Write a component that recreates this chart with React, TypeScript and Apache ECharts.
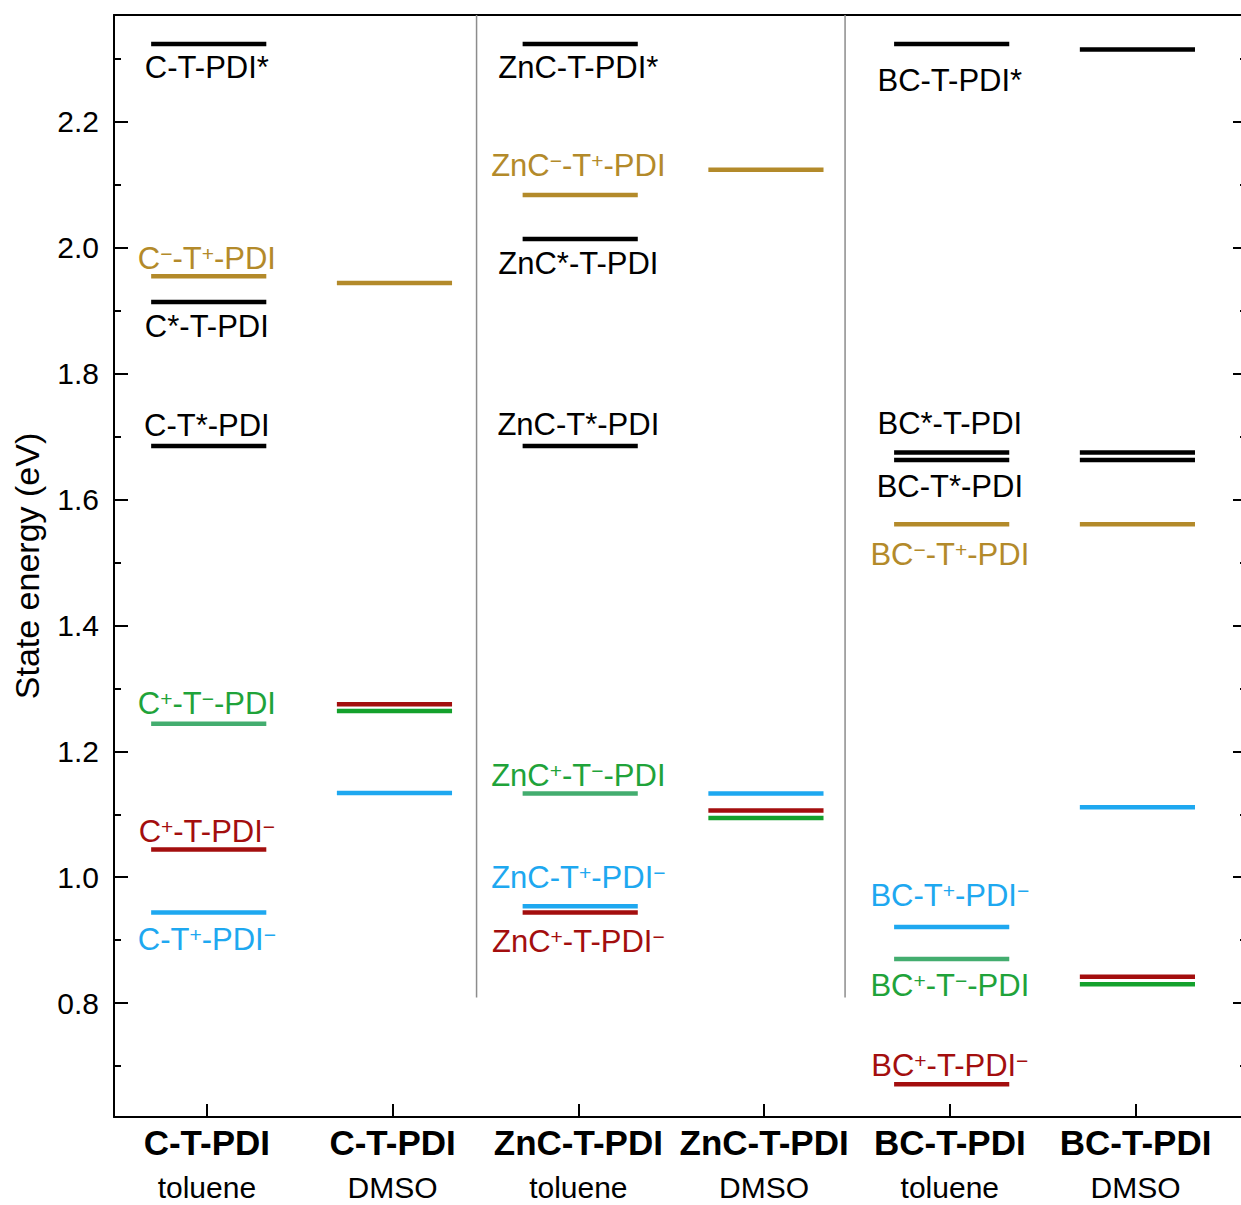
import React, { useEffect, useRef } from "react";
import * as echarts from "echarts";

const FONT = '"Liberation Sans", Arial, Helvetica, sans-serif';

// ---------- data ----------
const columns = [1, 2, 3, 4, 5, 6];
const compounds = ["C-T-PDI", "C-T-PDI", "ZnC-T-PDI", "ZnC-T-PDI", "BC-T-PDI", "BC-T-PDI"];
const solvents = ["toluene", "DMSO", "toluene", "DMSO", "toluene", "DMSO"];
const yMajorTicks = [0.8, 1.0, 1.2, 1.4, 1.6, 1.8, 2.0, 2.2];
const yMinorTicks = [0.7, 0.9, 1.1, 1.3, 1.5, 1.7, 1.9, 2.1, 2.3];
const yMin = 0.619;
const yMax = 2.37;
const xMin = 0.5;
const xMax = 6.6;

// energy levels: column, energy (eV), state type
const levelColumn = [
  1, 1, 1, 1, 1, 1, 1,
  2, 2, 2, 2,
  3, 3, 3, 3, 3, 3, 3,
  4, 4, 4, 4,
  5, 5, 5, 5, 5, 5, 5,
  6, 6, 6, 6, 6, 6, 6,
];
const levelEnergy = [
  2.324, 1.955, 1.914, 1.685, 1.244, 1.044, 0.944,
  1.944, 1.275, 1.264, 1.134,
  2.324, 2.084, 2.014, 1.685, 1.133, 0.954, 0.944,
  2.124, 1.133, 1.106, 1.094,
  2.324, 1.675, 1.663, 1.561, 0.921, 0.870, 0.671,
  2.315, 1.675, 1.663, 1.561, 1.111, 0.842, 0.830,
];
const levelState = [
  "LE", "CmTp", "LE", "LE", "CpTm", "CpPm", "TpPm",
  "CmTp", "CpPm", "CpTm", "TpPm",
  "LE", "CmTp", "LE", "LE", "CpTm", "TpPm", "CpPm",
  "CmTp", "TpPm", "CpPm", "CpTm",
  "LE", "LE", "LE", "CmTp", "TpPm", "CpTm", "CpPm",
  "LE", "LE", "LE", "CmTp", "TpPm", "CpPm", "CpTm",
];

// state labels: column, energy of labelled level, state type, text
const labelColumn = [1, 1, 1, 1, 1, 1, 1, 3, 3, 3, 3, 3, 3, 3, 5, 5, 5, 5, 5, 5, 5];
const labelEnergy = [
  2.324, 1.955, 1.914, 1.685, 1.244, 1.044, 0.944,
  2.324, 2.084, 2.014, 1.685, 1.133, 0.954, 0.944,
  2.324, 1.675, 1.663, 1.561, 0.921, 0.870, 0.671,
];
const labelState = [
  "LE", "CmTp", "LE", "LE", "CpTm", "CpPm", "TpPm",
  "LE", "CmTp", "LE", "LE", "CpTm", "TpPm", "CpPm",
  "LE", "LE", "LE", "CmTp", "TpPm", "CpTm", "CpPm",
];
const labelText = [
  "{n|C-T-PDI*}",
  "{n|C}{s|−}{n|-T}{s|+}{n|-PDI}",
  "{n|C*-T-PDI}",
  "{n|C-T*-PDI}",
  "{n|C}{s|+}{n|-T}{s|−}{n|-PDI}",
  "{n|C}{s|+}{n|-T-PDI}{s|−}",
  "{n|C-T}{s|+}{n|-PDI}{s|−}",
  "{n|ZnC-T-PDI*}",
  "{n|ZnC}{s|−}{n|-T}{s|+}{n|-PDI}",
  "{n|ZnC*-T-PDI}",
  "{n|ZnC-T*-PDI}",
  "{n|ZnC}{s|+}{n|-T}{s|−}{n|-PDI}",
  "{n|ZnC-T}{s|+}{n|-PDI}{s|−}",
  "{n|ZnC}{s|+}{n|-T-PDI}{s|−}",
  "{n|BC-T-PDI*}",
  "{n|BC*-T-PDI}",
  "{n|BC-T*-PDI}",
  "{n|BC}{s|−}{n|-T}{s|+}{n|-PDI}",
  "{n|BC-T}{s|+}{n|-PDI}{s|−}",
  "{n|BC}{s|+}{n|-T}{s|−}{n|-PDI}",
  "{n|BC}{s|+}{n|-T-PDI}{s|−}",
];

// separators between compound groups (x position in axis units, lower end in eV)
const separatorX = [2.452, 4.436];
const separatorBottom = 0.809;

// ---------- styles ----------
const labelOffsetPx = [24, -18, 25, -21, -20, -18.5, 27, 23.5, -29, 24.5, -22, -18, -29, 29, 36.5, -28.5, 27, 30, -31, 26, -19];
const lineColor: Record<string, string> = {
  LE: "#000000",
  CmTp: "#b38a2a",
  CpTm: "#43ad6f",
  CpTmDMSO: "#14a12c",
  CpPm: "#a30e0e",
  TpPm: "#1ea8f0",
};
const textColor: Record<string, string> = {
  LE: "#000000",
  CmTp: "#b38a2a",
  CpTm: "#1fa33a",
  CpPm: "#a30e0e",
  TpPm: "#1ea8f0",
};
const BAR_LEFT = 0.3;
const BAR_RIGHT = 0.32;
const LABEL_SHIFT = 0.0;
const CHART_W = 1252;
const CHART_H = 1205;

const levelData = levelColumn.map((c, i) => [c, levelEnergy[i]]);
const labelData = labelColumn.map((c, i) => [c, labelEnergy[i]]);
const separatorData = separatorX.map((x) => [x, separatorBottom]);

const axisBlack = { color: "#000", width: 2 };

const option: any = {
  animation: false,
  backgroundColor: "#ffffff",
  grid: { left: 114, top: 15, right: CHART_W - 1247, bottom: 88, containLabel: false },
  xAxis: [
    {
      type: "value",
      min: xMin,
      max: xMax,
      position: "bottom",
      splitLine: { show: false },
      axisLine: { show: true, onZero: false, lineStyle: axisBlack },
      axisTick: { show: true, inside: true, length: 13, customValues: columns, lineStyle: axisBlack },
      axisLabel: {
        customValues: columns,
        margin: -6,
        color: "#000",
        formatter: (v: number) => {
          const i = Math.round(v) - 1;
          return `{b|${compounds[i]}}\n{n|${solvents[i]}}`;
        },
        rich: {
          b: { fontFamily: FONT, fontSize: 35, fontWeight: "bold", color: "#000", lineHeight: 62 },
          n: { fontFamily: FONT, fontSize: 30, color: "#000", lineHeight: 28 },
        },
      },
    },
    {
      type: "value",
      min: xMin,
      max: xMax,
      position: "top",
      splitLine: { show: false },
      axisLine: { show: true, onZero: false, lineStyle: axisBlack },
      axisTick: { show: false },
      axisLabel: { show: false },
    },
  ],
  yAxis: [
    {
      type: "value",
      min: yMin,
      max: yMax,
      position: "left",
      name: "State energy (eV)",
      nameLocation: "middle",
      nameGap: 70,
      nameTextStyle: { fontFamily: FONT, fontSize: 34, color: "#000" },
      splitLine: { show: false },
      axisLine: { show: true, onZero: false, lineStyle: axisBlack },
      axisTick: { show: true, inside: true, length: 14, customValues: yMajorTicks, lineStyle: axisBlack },
      axisLabel: {
        customValues: yMajorTicks,
        margin: 15,
        fontFamily: FONT,
        fontSize: 30,
        color: "#000",
        formatter: (v: number) => v.toFixed(1),
      },
    },
    {
      type: "value",
      min: yMin,
      max: yMax,
      position: "left",
      splitLine: { show: false },
      axisLine: { show: false },
      axisTick: { show: true, inside: true, length: 7, customValues: yMinorTicks, lineStyle: axisBlack },
      axisLabel: { show: false },
    },
    {
      type: "value",
      min: yMin,
      max: yMax,
      position: "right",
      splitLine: { show: false },
      axisLine: { show: true, onZero: false, lineStyle: axisBlack },
      axisTick: { show: true, inside: true, length: 14, customValues: yMajorTicks, lineStyle: axisBlack },
      axisLabel: { show: false },
    },
    {
      type: "value",
      min: yMin,
      max: yMax,
      position: "right",
      splitLine: { show: false },
      axisLine: { show: false },
      axisTick: { show: true, inside: true, length: 7, customValues: yMinorTicks, lineStyle: axisBlack },
      axisLabel: { show: false },
    },
  ],
  series: [
    {
      type: "custom",
      name: "separators",
      coordinateSystem: "cartesian2d",
      xAxisIndex: 0,
      yAxisIndex: 0,
      clip: false,
      silent: true,
      data: separatorData,
      renderItem: (params: any, api: any) => {
        const x = api.value(0);
        const p1 = api.coord([x, api.value(1)]);
        const p2 = api.coord([x, yMax]);
        return {
          type: "line",
          shape: { x1: p1[0], y1: p1[1], x2: p2[0], y2: p2[1] },
          style: { stroke: "#8c8c8c", lineWidth: 1.5 },
        };
      },
    },
    {
      type: "custom",
      name: "levels",
      coordinateSystem: "cartesian2d",
      xAxisIndex: 0,
      yAxisIndex: 0,
      clip: false,
      silent: true,
      data: levelData,
      renderItem: (params: any, api: any) => {
        const i = params.dataIndex;
        const x = api.value(0);
        const e = api.value(1);
        const p1 = api.coord([x - BAR_LEFT, e]);
        const p2 = api.coord([x + BAR_RIGHT, e]);
        let key = levelState[i];
        if (key === "CpTm" && solvents[levelColumn[i] - 1] === "DMSO") key = "CpTmDMSO";
        return {
          type: "line",
          shape: { x1: p1[0], y1: p1[1], x2: p2[0], y2: p2[1] },
          style: { stroke: lineColor[key], lineWidth: 4.5 },
        };
      },
    },
    {
      type: "custom",
      name: "labels",
      coordinateSystem: "cartesian2d",
      xAxisIndex: 0,
      yAxisIndex: 0,
      clip: false,
      silent: true,
      data: labelData,
      renderItem: (params: any, api: any) => {
        const i = params.dataIndex;
        const p = api.coord([api.value(0) + LABEL_SHIFT, api.value(1)]);
        const color = textColor[labelState[i]];
        return {
          type: "text",
          x: p[0],
          y: p[1] + labelOffsetPx[i],
          style: {
            text: labelText[i],
            align: "center",
            verticalAlign: "middle",
            fill: color,
            fontFamily: FONT,
            fontSize: 31,
            rich: {
              n: { fontFamily: FONT, fontSize: 31, fill: color, lineHeight: 31 },
              s: { fontFamily: FONT, fontSize: 21, fill: color, lineHeight: 20, verticalAlign: "top" },
            },
          },
        };
      },
    },
  ],
};

export default function App() {
  const ref = useRef<HTMLDivElement>(null);
  useEffect(() => {
    const chart = echarts.init(ref.current as HTMLDivElement, null, { renderer: "svg" });
    chart.setOption(option);
    return () => chart.dispose();
  }, []);
  return (
    <div
      style={{ position: "absolute", left: 0, top: 0, width: 1241, height: CHART_H, overflow: "hidden", background: "#fff" }}
    >
      <div ref={ref} style={{ width: CHART_W, height: CHART_H }} />
    </div>
  );
}
